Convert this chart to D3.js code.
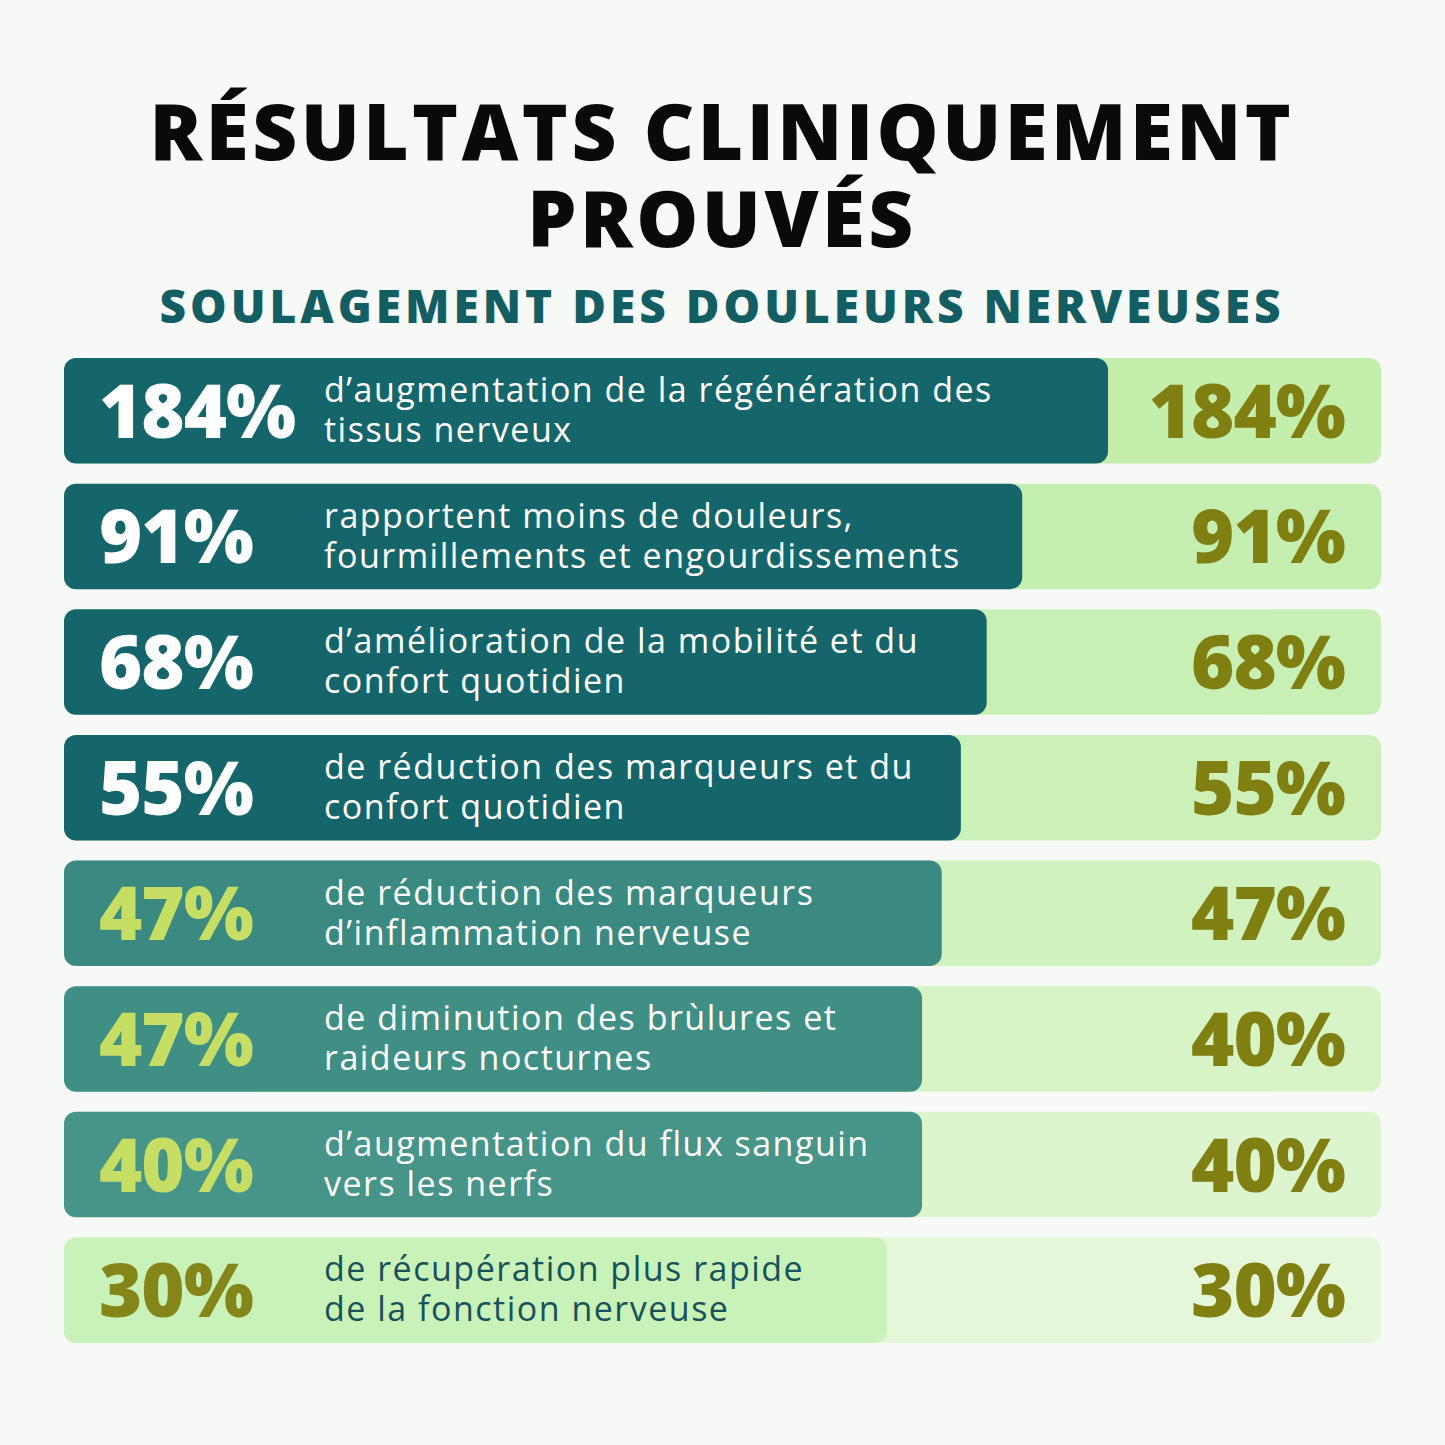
<!DOCTYPE html>
<html><head><meta charset="utf-8">
<script src="https://cdn.jsdelivr.net/npm/d3@7"></script>
<style>body{margin:0;background:#f7f9f7}</style>
</head><body>
<svg width="1445" height="1445"></svg>
<script>
const leftLabels = ['184%','91%','68%','55%','47%','47%','40%','30%'];
const rightValues = [184,91,68,55,47,40,40,30];
const descriptions = [
  ['d’augmentation de la régénération des','tissus nerveux'],
  ['rapportent moins de douleurs,','fourmillements et engourdissements'],
  ['d’amélioration de la mobilité et du','confort quotidien'],
  ['de réduction des marqueurs et du','confort quotidien'],
  ['de réduction des marqueurs','d’inflammation nerveuse'],
  ['de diminution des brùlures et','raideurs nocturnes'],
  ['d’augmentation du flux sanguin','vers les nerfs'],
  ['de récupération plus rapide','de la fonction nerveuse']
];
const barColors = ['#15666b','#15666b','#15666b','#15666b','#3b8a81','#3f8f84','#479488','#c9f2b8'];
const leftColors = ['#fff','#fff','#fff','#fff','#c5de63','#c5de63','#c5de63','#85861a'];
const descColors = ['#fff','#fff','#fff','#fff','#fff','#fff','#fff','#17525a'];
const bgColors = ['#c3eeac','#c5efb0','#c8f0b4','#cbf1b8','#d0f2be','#d6f4c6','#dcf5ce','#e4f7d9'];

const svg = d3.select('svg');
const font = '"Open Sans", sans-serif';

svg.append('rect').attr('width',1445).attr('height',1445).attr('fill','#f7f9f7');

//titles
svg.append('text').attr('x',722).attr('y',160).attr('text-anchor','middle')
  .attr('font-family',font).attr('font-weight',800).attr('font-size',78).attr('fill','#0a0a0a')
  .attr('letter-spacing',3.5)
  .text('RÉSULTATS CLINIQUEMENT');
svg.append('text').attr('x',722).attr('y',247).attr('text-anchor','middle')
  .attr('font-family',font).attr('font-weight',800).attr('font-size',78).attr('fill','#0a0a0a')
  .attr('letter-spacing',3.5)
  .text('PROUVÉS');
svg.append('text').attr('x',722).attr('y',323).attr('text-anchor','middle')
  .attr('font-family',font).attr('font-weight',800).attr('font-size',46).attr('fill','#135e63')
  .attr('letter-spacing',4)
  .text('SOULAGEMENT DES DOULEURS NERVEUSES');

const y = d3.scaleBand().domain(d3.range(8)).range([358,1343]).paddingInner(0.16).paddingOuter(0);
const x = d3.scaleLog().domain([30,184]).range([887,1108]);

const rows = svg.selectAll('g.row').data(rightValues).enter().append('g')
  .attr('transform',(d,i) => `translate(0,${y(i)})`);

rows.append('rect').attr('x',64).attr('width',1381-64).attr('height',y.bandwidth())
  .attr('rx',12).attr('fill',(d,i) => bgColors[i]);
rows.append('rect').attr('x',64).attr('width',d => x(d)-64).attr('height',y.bandwidth())
  .attr('rx',12).attr('fill',(d,i) => barColors[i]);

rows.append('text').attr('x',99).attr('y',y.bandwidth()/2+27)
  .attr('font-family',font).attr('font-weight',800).attr('font-size',74)
  .attr('letter-spacing',-1)
  .attr('fill',(d,i) => leftColors[i]).text((d,i) => leftLabels[i]);

rows.append('text').attr('x',1345).attr('y',y.bandwidth()/2+27).attr('text-anchor','end')
  .attr('font-family',font).attr('font-weight',800).attr('font-size',74)
  .attr('letter-spacing',-1)
  .attr('fill','#7f7f12').text(d => d + '%');

rows.each(function(d,i){
  const g = d3.select(this);
  descriptions[i].forEach((line,j) => {
    g.append('text').attr('x',324).attr('y',44 + j*40)
      .attr('font-family',font).attr('font-size',34).attr('letter-spacing',1.5)
      .attr('fill',descColors[i]).text(line);
  });
});
</script>
</body></html>
